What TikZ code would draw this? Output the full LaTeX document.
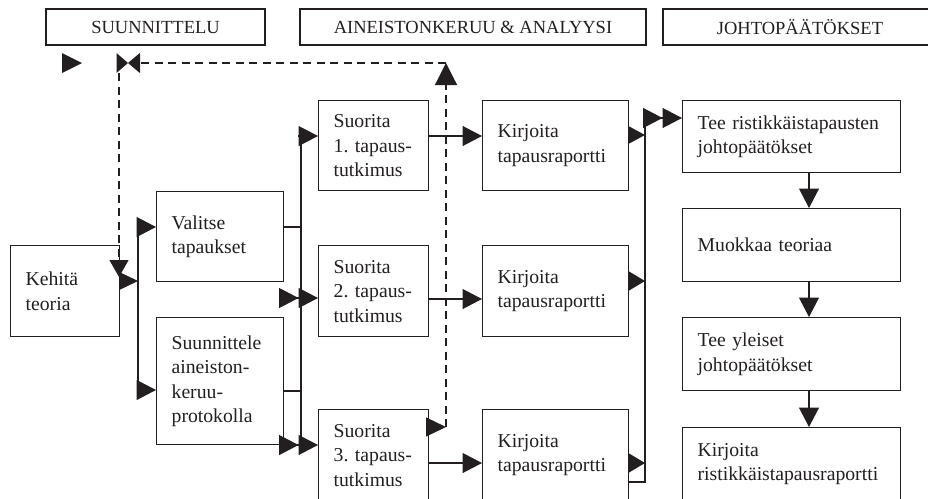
\documentclass[tikz,border=0pt]{standalone}
\usepackage{fontspec}
\setmainfont{Liberation Serif}
\usetikzlibrary{arrows.meta}
\definecolor{ink}{HTML}{231F20}
\frenchspacing
\begin{document}
\begin{tikzpicture}[x=1pt,y=-1pt,
  box/.style={draw=ink,line width=1.3pt,anchor=north west,inner xsep=15pt,inner ysep=0pt,align=left,
    font=\fontsize{19.7}{24.5}\selectfont,text=ink},
  hdr/.style={draw=ink,line width=1.3pt,minimum height=36pt,inner sep=0pt,
    font=\fontsize{18.5}{22}\selectfont,text=ink},
  conn/.style={draw=ink,line width=1.2pt},
  tip/.style={-{Triangle[length=19.5pt,width=20pt]}},
  dtip/.style={-{Triangle[length=19.5pt,width=20pt,sep=0pt]Triangle[length=19.5pt,width=20pt,sep=0pt]}},
  dashline/.style={dash pattern=on 8pt off 5.5pt}
]
\useasboundingbox (0,0) rectangle (928,498);

% headers
\node[hdr,minimum width=219pt] (h1) at (155.5,27) {SUUNNITTELU};
\node[hdr,minimum width=346pt] (h2) at (473,27) {AINEISTONKERUU \& ANALYYSI};
\node[hdr,minimum width=274pt] (h3) at (800,27) {JOHTOPÄÄTÖKSET};

% boxes
\node[box,text width=79pt,minimum height=91pt] (keh) at (10,245) {Kehitä\\teoria};
\node[box,text width=97pt,minimum height=90pt] (val) at (156,191) {Valitse\\tapaukset};
\node[box,text width=97pt,minimum height=127pt] (suu) at (156,317) {Suunnittele\\aineiston-\\keruu-\\protokolla};
\node[box,text width=80pt,minimum height=90pt] (s1) at (318,100) {Suorita\\\mbox{1.\ tapaus-}\\tutkimus};
\node[box,text width=80pt,minimum height=91pt] (s2) at (318,245) {Suorita\\\mbox{2.\ tapaus-}\\tutkimus};
\node[box,text width=80pt,minimum height=91pt] (s3) at (318,409) {Suorita\\\mbox{3.\ tapaus-}\\tutkimus};
\node[box,text width=116pt,minimum height=90pt] (k1) at (482,100) {Kirjoita\\tapausraportti};
\node[box,text width=116pt,minimum height=91pt] (k2) at (482,245) {Kirjoita\\tapausraportti};
\node[box,text width=116pt,minimum height=91pt] (k3) at (482,409) {Kirjoita\\tapausraportti};
\node[box,text width=188pt,minimum height=72pt] (t1) at (682,100) {Tee ristikkäistapausten\\johtopäätökset};
\node[box,text width=188pt,minimum height=73pt] (t2) at (682,208) {Muokkaa teoriaa};
\node[box,text width=188pt,minimum height=73pt] (t3) at (682,317) {Tee yleiset\\johtopäätökset};
\node[box,text width=188pt,minimum height=73pt] (t4) at (682,427) {Kirjoita\\ristikkäistapausraportti};

% bus A (x=138)
\coordinate (a0) at (138,281);
\coordinate (a1) at (138,227);
\coordinate (a2) at (138,390);
\draw[conn] (a1) -- (a2);
\draw[conn,-{Triangle[length=19pt,width=18pt]}] (keh.east |- a0) -- (a0);
\draw[conn,tip] (a1) -- (val.west |- a1);
\draw[conn,tip] (a2) -- (suu.west |- a2);

% bus B (x=301)
\coordinate (b1) at (301,136);
\coordinate (b2) at (301,298);
\coordinate (b3) at (301,445);
\coordinate (bv) at (301,227);
\coordinate (bs) at (301,391);
\draw[conn] (b1) -- (b3);
\draw[conn] (val.east |- bv) -- (bv);
\draw[conn] (suu.east |- bs) -- (bs);
\draw[conn,tip] ([xshift=-3pt]b1) -- (s1.west |- b1);
\draw[conn,dtip] ([xshift=-21pt]b2) -- (s2.west |- b2);
\draw[conn,dtip] ([xshift=-21pt]b3) -- (s3.west |- b3);

% Suorita -> Kirjoita
\coordinate (c1) at (428,136);
\coordinate (c2) at (428,299);
\coordinate (c3) at (428,463);
\draw[conn,tip] (c1) -- (k1.west |- c1);
\draw[conn,tip] (c2) -- (k2.west |- c2);
\draw[conn,tip] (c3) -- (k3.west |- c3);

% bus D (x=645)
\coordinate (d0) at (645,118);
\coordinate (d1) at (645,135);
\coordinate (d2) at (645,281);
\coordinate (d3) at (645,463);
\coordinate (d4) at (645,482);
\draw[conn] (d0) -- (d4) -- (k3.east |- d4);
\draw[conn,dtip] (d0) -- (t1.west |- d0);
\draw[conn,-{Triangle[length=17pt,width=18pt]}] (k1.east |- d1) -- (d1);
\draw[conn,-{Triangle[length=17pt,width=20pt]}] (k2.east |- d2) -- (d2);
\draw[conn,-{Triangle[length=17pt,width=20pt]}] (k3.east |- d3) -- (d3);

% right column
\coordinate (e) at (809,0);
\draw[conn,tip] (t1.south -| e) -- (t2.north -| e);
\draw[conn,tip] (t2.south -| e) -- (t3.north -| e);
\draw[conn,tip] (t3.south -| e) -- (t4.north -| e);

% dashed feedback loop
\coordinate (u0) at (446,427);
\coordinate (u) at (446,63);
\coordinate (bt) at (128,63);
\coordinate (v0) at (119,73);
\coordinate (v1) at (119,277);
\draw[conn,-{Triangle[length=20pt,width=19pt]}] ([xshift=-3pt]s3.east |- u0) -- (u0);
\draw[conn,dashline,-{Triangle[length=22pt,width=22pt]}] (u0) -- (u);
\draw[conn,dashline,-{Triangle[length=12pt,width=20pt]}] (u) -- (bt);
\fill[ink] (116.5,53) -- (116.5,73) -- (bt) -- cycle;
\draw[conn,dashline,-{Triangle[length=17pt,width=19pt]}] (v0) -- (v1);

% standalone triangle
\fill[ink] (62,53) -- (62,73) -- (82,63) -- cycle;
\end{tikzpicture}
\end{document}
